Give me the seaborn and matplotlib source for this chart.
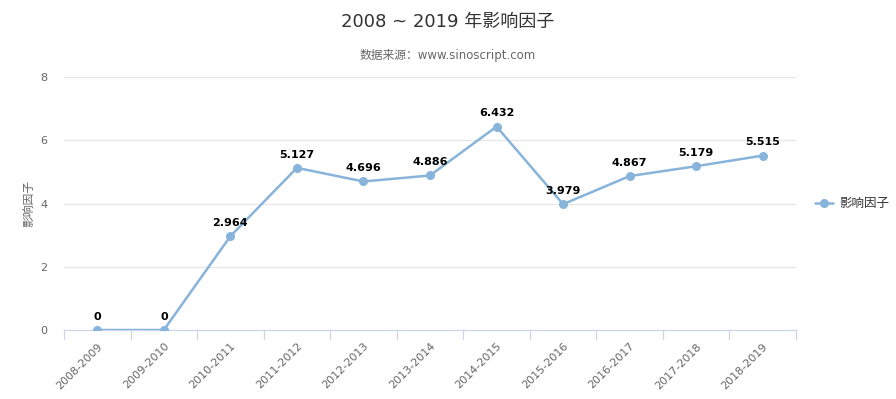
import matplotlib
matplotlib.use("Agg")
import matplotlib.pyplot as plt
import seaborn as sns
import pandas as pd

periods = ["2008-2009", "2009-2010", "2010-2011", "2011-2012", "2012-2013", "2013-2014",
           "2014-2015", "2015-2016", "2016-2017", "2017-2018", "2018-2019"]
impact = [0, 0, 2.964, 5.127, 4.696, 4.886, 6.432, 3.979, 4.867, 5.179, 5.515]
labels = ["0", "0", "2.964", "5.127", "4.696", "4.886", "6.432", "3.979", "4.867", "5.179", "5.515"]
y_ticks = [0, 2, 4, 6, 8]
series_name = "影响因子"

sns.set_theme(style="white")
plt.rcParams['font.family'] = ['DejaVu Sans', 'Noto Sans CJK SC']

df = pd.DataFrame({"period": periods, "value": impact, "x": range(len(periods))})

fig = plt.figure(figsize=(8.96, 3.99), dpi=100)
ax = fig.add_axes([64/896, 1-330/399, (796-64)/896, (330-77)/399])

color = "#88b3da"
sns.lineplot(data=df, x="x", y="value", ax=ax, color=color, linewidth=1.8,
             marker="o", markersize=6.5, markeredgewidth=0, label=series_name, zorder=3)

for xi, v, lab in zip(df["x"], impact, labels):
    ax.annotate(lab, (xi, v), xytext=(0, 6), textcoords="offset points",
                ha="center", va="bottom", fontsize=8, fontweight="bold", color="#000000")

ax.set_xlim(-0.5, len(periods) - 0.5)
ax.set_ylim(0, 8)
ax.set_yticks(y_ticks)
ax.set_yticklabels([str(t) for t in y_ticks], color="#666666", fontsize=8)
ax.tick_params(axis="y", length=0, pad=12)
for t in y_ticks[1:]:
    ax.axhline(t, color="#e6e6e6", linewidth=0.9, zorder=0)

ax.set_xticks(range(len(periods)))
ax.set_xticklabels(periods, rotation=45, ha="right", rotation_mode="anchor",
                   color="#666666", fontsize=8)
ax.tick_params(axis="x", length=0, pad=8)
for b in [i - 0.5 for i in range(len(periods) + 1)]:
    ax.plot([b, b], [0, -0.3], color="#ccd6eb", linewidth=0.9, clip_on=False, zorder=1)

for s in ["top", "right", "left"]:
    ax.spines[s].set_visible(False)
ax.spines["bottom"].set_color("#ccd6eb")
ax.spines["bottom"].set_linewidth(0.9)

ax.set_xlabel("")
ax.set_ylabel(series_name, color="#666666", fontsize=8.5, labelpad=3)

leg = ax.legend(loc="center left", bbox_to_anchor=(1.01, 0.5), frameon=False,
                fontsize=9, handlelength=1.5, handletextpad=0.5)
for t in leg.get_texts():
    t.set_color("#333333")

fig.text(0.5, 1-22/399, "2008 ~ 2019 年影响因子", ha="center", va="center",
         fontsize=13, color="#333333")
fig.text(0.5, 1-55/399, "数据来源：www.sinoscript.com", ha="center", va="center",
         fontsize=8.5, color="#666666")

fig.savefig("out.png", dpi=100)
